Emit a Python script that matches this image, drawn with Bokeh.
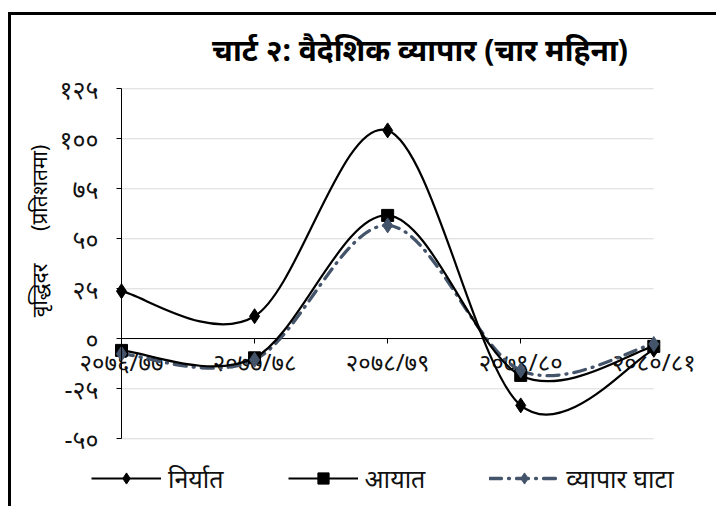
import numpy as np
from bokeh.plotting import figure
from bokeh.models import (Range1d, FixedTicker, Label, Legend, LegendItem,
                          LinearAxis, Grid, ColumnDataSource)
from bokeh.embed import file_html
from bokeh.resources import INLINE

# ---------------- data ----------------
title_text = "चार्ट २: वैदेशिक व्यापार (चार महिना)"
y_title = "वृद्धिदर" + "\u00a0" * 6 + "(प्रतिशतमा)"
categories = ["२०७६/७७", "२०७७/७८", "२०७८/७९", "२०७९/८०", "२०८०/८१"]
exports = [23.8, 11.3, 104.2, -33.3, -5.5]
imports = [-5.8, -9.5, 61.7, -18.3, -3.8]
deficit = [-7.5, -10.5, 56.7, -15.8, -2.6]
series_names = ["निर्यात", "आयात", "व्यापार घाटा"]
y_ticks = [-50, -25, 0, 25, 50, 75, 100, 125]
y_tick_labels = ["-५०", "-२५", "०", "२५", "५०", "७५", "१००", "१२५"]

# ---------------- layout constants ----------------
FONT = "Noto Sans"
TXT = "#111111"
DEF_COLOR = "#44546A"
W, H = 708, 494            # canvas size (plot area fills the whole canvas)
X0_PX, PX_PER_X = 110.0, 133.075   # first category position / category spacing
Y0_PX, PX_PER_Y = 323.3, 2.0       # zero line position / pixels per unit

x_idx = list(range(len(categories)))

p = figure(width=W, height=H, output_backend="svg", toolbar_location=None,
           x_range=Range1d(-X0_PX / PX_PER_X, (W - X0_PX) / PX_PER_X),
           y_range=Range1d((Y0_PX - H) / PX_PER_Y, Y0_PX / PX_PER_Y),
           min_border=0, x_axis_location=None, y_axis_location=None,
           background_fill_color="white", border_fill_color="white")
p.outline_line_color = None
p.center = [r for r in p.center if not isinstance(r, Grid)]
p.styles = {"border-top": "3px solid #000", "border-left": "3px solid #000",
            "margin-top": "12px", "margin-left": "8px"}

# axes (drawn at fixed data positions inside the plot area)
yaxis = LinearAxis(ticker=FixedTicker(ticks=y_ticks),
                   major_label_overrides=dict(zip(y_ticks, y_tick_labels)),
                   fixed_location=x_idx[0], bounds=(y_ticks[0], y_ticks[-1]))
yaxis.axis_line_color = "black"
yaxis.major_tick_line_color = "black"
yaxis.major_tick_out = 5
yaxis.major_tick_in = 0
yaxis.minor_tick_line_color = None
yaxis.major_label_standoff = 18
yaxis.major_label_text_font = FONT
yaxis.major_label_text_font_size = "25px"
yaxis.major_label_text_color = TXT
p.add_layout(yaxis, "left")

xaxis = LinearAxis(ticker=FixedTicker(ticks=x_idx),
                   major_label_overrides=dict(zip(x_idx, categories)),
                   fixed_location=0, bounds=(x_idx[0], x_idx[-1]))
xaxis.axis_line_color = "black"
xaxis.major_tick_line_color = "black"
xaxis.major_tick_out = 5
xaxis.major_tick_in = 0
xaxis.minor_tick_line_color = None
xaxis.major_label_standoff = 1
xaxis.major_label_text_font = FONT
xaxis.major_label_text_font_size = "24px"
xaxis.major_label_text_color = TXT
xaxis.level = "underlay"
p.add_layout(xaxis, "below")

# horizontal gridlines at the y ticks, across the category span
p.segment(x0=[x_idx[0]] * len(y_ticks), x1=[x_idx[-1]] * len(y_ticks),
          y0=y_ticks, y1=y_ticks, line_color="#b3b3b3", line_dash="1 1",
          line_width=1, level="underlay")


def smooth_source(ys):
    """Bezier control points (Excel-like smoothing) built from the data points."""
    n = len(ys)
    d = dict(x0=[], y0=[], x1=[], y1=[], cx0=[], cy0=[], cx1=[], cy1=[])
    for i in range(n - 1):
        a = max(i - 1, 0)
        b = min(i + 2, n - 1)
        d["x0"].append(x_idx[i]); d["y0"].append(ys[i])
        d["x1"].append(x_idx[i + 1]); d["y1"].append(ys[i + 1])
        d["cx0"].append(x_idx[i] + (x_idx[i + 1] - x_idx[a]) / 6)
        d["cy0"].append(ys[i] + (ys[i + 1] - ys[a]) / 6)
        d["cx1"].append(x_idx[i + 1] - (x_idx[b] - x_idx[i]) / 6)
        d["cy1"].append(ys[i + 1] - (ys[b] - ys[i]) / 6)
    return ColumnDataSource(d)


bz_def = p.bezier(x0="x0", y0="y0", x1="x1", y1="y1", cx0="cx0", cy0="cy0",
                  cx1="cx1", cy1="cy1", source=smooth_source(deficit),
                  line_color=DEF_COLOR, line_width=3.3, line_dash="12 7 1 7",
                  line_cap="round")
bz_imp = p.bezier(x0="x0", y0="y0", x1="x1", y1="y1", cx0="cx0", cy0="cy0",
                  cx1="cx1", cy1="cy1", source=smooth_source(imports),
                  line_color="black", line_width=2.2)
bz_exp = p.bezier(x0="x0", y0="y0", x1="x1", y1="y1", cx0="cx0", cy0="cy0",
                  cx1="cx1", cy1="cy1", source=smooth_source(exports),
                  line_color="black", line_width=2.2)

sc_imp = p.scatter(x=x_idx, y=imports, marker="square", size=12,
                   fill_color="black", line_color="black")
sc_exp = p.scatter(x=x_idx, y=exports, marker="diamond", size=15,
                   fill_color="black", line_color="black")
sc_def = p.scatter(x=x_idx, y=deficit, marker="diamond", size=15,
                   fill_color=DEF_COLOR, line_color=DEF_COLOR)

legend = Legend(items=[
    LegendItem(label=series_names[0], renderers=[bz_exp, sc_exp]),
    LegendItem(label=series_names[1], renderers=[bz_imp, sc_imp]),
    LegendItem(label=series_names[2], renderers=[bz_def, sc_def]),
], orientation="horizontal", location=(80, 14), glyph_width=70, glyph_height=28,
    label_height=28, label_standoff=7, spacing=64, padding=0, margin=0,
    border_line_color=None, background_fill_alpha=0,
    label_text_font=FONT, label_text_font_size="25px", label_text_color=TXT)
p.add_layout(legend)

title = Label(x=408.5, y=H - 34, x_units="screen", y_units="screen", text=title_text,
              text_align="center", text_baseline="middle", text_font=FONT,
              text_font_size="30px", text_font_style="bold", text_color="black")
p.add_layout(title)

ylab = Label(x=27.5, y=H - 215.5, x_units="screen", y_units="screen", text=y_title,
             angle=90, angle_units="deg", text_align="center", text_baseline="middle",
             text_font=FONT, text_font_size="21px", text_color="black")
p.add_layout(ylab)

open("out.html", "w").write(file_html(p, INLINE))
